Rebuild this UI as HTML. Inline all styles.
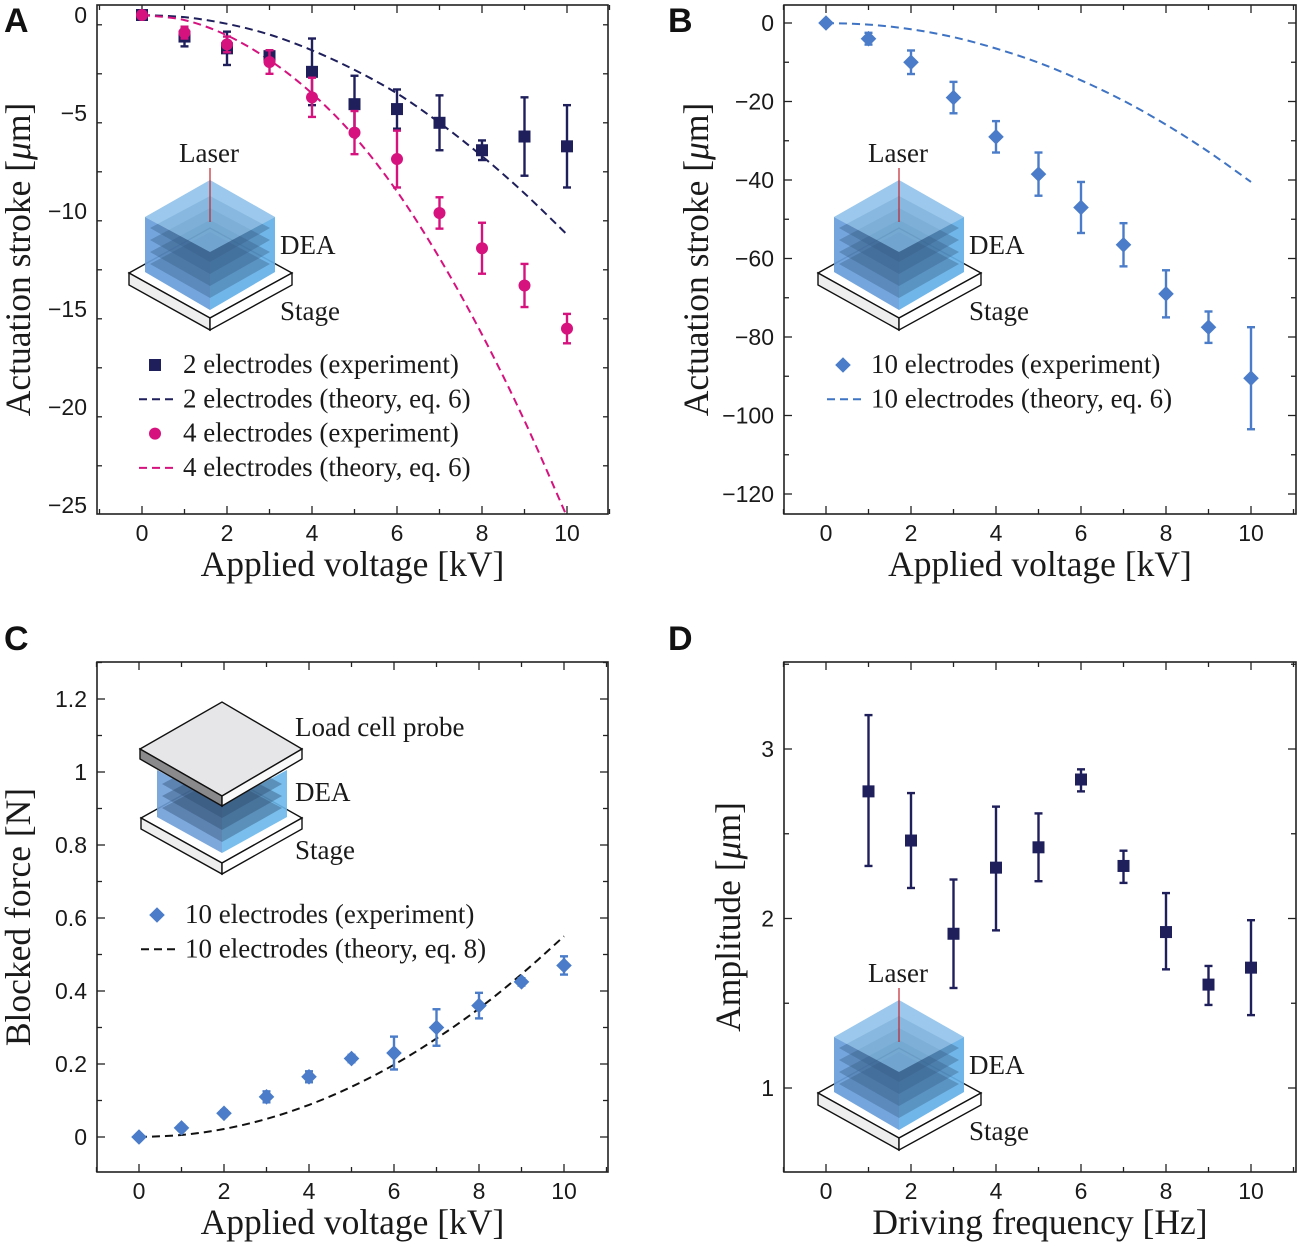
<!DOCTYPE html>
<html><head><meta charset="utf-8"><style>
html,body{margin:0;padding:0;background:#fff;}
svg{display:block;}
.tk{font-family:"Liberation Sans",sans-serif;font-size:23px;fill:#1a1a1a;}
.ti{font-family:"Liberation Serif",serif;font-size:35.5px;fill:#1a1a1a;}
.lg{font-family:"Liberation Serif",serif;font-size:27px;fill:#1a1a1a;}
.pl{font-family:"Liberation Sans",sans-serif;font-size:34px;font-weight:bold;fill:#111;}
</style></head><body>
<svg id="fig" width="1300" height="1247" viewBox="0 0 1300 1247" xmlns="http://www.w3.org/2000/svg"></svg>
<script>
// ---- data ----
const voltsA = [0,1,2,3,4,5,6,7,8,9,10];
const a2Exp = [0,-1.1,-1.7,-2.1,-2.9,-4.55,-4.8,-5.5,-6.9,-6.2,-6.7];
const a2Err = [0,0.5,0.85,0.3,1.7,1.45,1.0,1.4,0.5,2.0,2.1];
const a4Exp = [0,-0.9,-1.5,-2.4,-4.2,-6.0,-7.35,-10.1,-11.9,-13.8,-16.0];
const a4Err = [0,0.3,0.4,0.6,1.0,1.1,1.45,0.8,1.3,1.1,0.75];
const a2Th = [0,-0.11,-0.45,-1.0,-1.8,-2.8,-4.0,-5.5,-7.2,-9.1,-11.2];
const a4Th = [0,-0.26,-1.04,-2.3,-4.0,-6.2,-9.0,-12.4,-16.3,-20.7,-25.6];
const b10Exp = [0,-4,-10,-19,-29,-38.5,-47,-56.5,-69,-77.5,-90.5];
const b10Err = [0,1.5,3,4,4,5.5,6.5,5.5,6,4,13];
const b10Th = [0,-0.4,-1.6,-3.6,-6.5,-10.1,-14.6,-19.8,-25.9,-32.8,-40.5];
const c10Exp = [0,0.025,0.065,0.11,0.165,0.215,0.23,0.30,0.36,0.425,0.47];
const c10Err = [0,0.008,0.008,0.015,0.015,0.01,0.045,0.05,0.035,0.01,0.025];
const c10Th = [0,0.0055,0.022,0.0495,0.088,0.1375,0.198,0.27,0.352,0.446,0.55];
const freqD = [1,2,3,4,5,6,7,8,9,10];
const dAmp = [2.75,2.46,1.91,2.30,2.42,2.82,2.31,1.92,1.61,1.71];
const dLo = [2.31,2.18,1.59,1.93,2.22,2.75,2.21,1.70,1.49,1.43];
const dHi = [3.20,2.74,2.23,2.66,2.62,2.88,2.40,2.15,1.72,1.99];
const xTicks = [0,2,4,6,8,10];
const yTicksA = [0,-5,-10,-15,-20,-25];
const yTicksB = [0,-20,-40,-60,-80,-100,-120];
const yTicksC = [0,0.2,0.4,0.6,0.8,1,1.2];
const yTicksD = [1,2,3];

const NS="http://www.w3.org/2000/svg";
const svg=document.getElementById('fig');
function mk(tag,attrs,parent,text){const e=document.createElementNS(NS,tag);for(const k in attrs)e.setAttribute(k,attrs[k]);if(text!==undefined)e.textContent=text;(parent||svg).appendChild(e);return e;}
function fmt(v){return (v<0?'\u2212':'')+String(Math.abs(v));}

function makeAxes(P){
  const g=mk('g',{});
  
  
  const box=mk('rect',{x:P.x0,y:P.y0,width:P.x1-P.x0,height:P.y1-P.y0,fill:'none',stroke:'#222','stroke-width':1.6},g);
  
  
  for(let v=P.xmin;v<=P.xmax+1e-9;v+=P.xminor){
    const x=P.sx(v);const maj=Math.abs(v/P.xmajor-Math.round(v/P.xmajor))<1e-6;const L=maj?8:5;
    mk('line',{x1:x,x2:x,y1:P.y1,y2:P.y1-L,stroke:'#222','stroke-width':1.3},g);
    mk('line',{x1:x,x2:x,y1:P.y0,y2:P.y0+L,stroke:'#222','stroke-width':1.3},g);
  }
  for(let v=P.ymin;v<=P.ymax+1e-9;v+=P.yminor){
    const y=P.sy(v);if(y<P.y0||y>P.y1)continue;const maj=Math.abs(v/P.ymajor-Math.round(v/P.ymajor))<1e-6;const L=maj?8:5;
    mk('line',{x1:P.x0,x2:P.x0+L,y1:y,y2:y,stroke:'#222','stroke-width':1.3},g);
    mk('line',{x1:P.x1,x2:P.x1-L,y1:y,y2:y,stroke:'#222','stroke-width':1.3},g);
  }
  P.xt.forEach(v=>{const t=mk('text',{x:P.sx(v),y:P.y1+27,'text-anchor':'middle',class:'tk'},g,fmt(v));
    
    });
  P.yt.forEach(v=>{const t=mk('text',{x:P.x0-10,y:P.sy(v)+8,'text-anchor':'end',class:'tk'},g,fmt(v));
    
    });
  const xt=mk('text',{x:(P.x0+P.x1)/2,y:P.y1+62,'text-anchor':'middle',class:'ti'},g,P.xtitle);
  
  
  const yt=mk('text',{x:0,y:0,'text-anchor':'middle',class:'ti',transform:`translate(${P.ytx},${(P.y0+P.y1)/2}) rotate(-90)`},g);
  yt.innerHTML=P.ytitle;
  
  
  const pl=mk('text',{x:P.lx,y:P.ly,class:'pl'},g,P.letter);
  
  
}
function curve(P,xs,ys,color,dash,name){
  const cid='clip'+name;
  const cp=mk('clipPath',{id:cid});mk('rect',{x:P.x0,y:P.y0,width:P.x1-P.x0,height:P.y1-P.y0},cp);
  const pts=xs.map((x,i)=>[P.sx(x),P.sy(ys[i])]);
  let d=`M${pts[0][0]},${pts[0][1]}`;
  for(let i=0;i<pts.length-1;i++){
    const p0=pts[Math.max(0,i-1)],p1=pts[i],p2=pts[i+1],p3=pts[Math.min(pts.length-1,i+2)];
    const c1=[p1[0]+(p2[0]-p0[0])/6,p1[1]+(p2[1]-p0[1])/6];
    const c2=[p2[0]-(p3[0]-p1[0])/6,p2[1]-(p3[1]-p1[1])/6];
    d+=` C${c1[0]},${c1[1]} ${c2[0]},${c2[1]} ${p2[0]},${p2[1]}`;
  }
  const p=mk('path',{d,fill:'none',stroke:color,'stroke-width':2,'stroke-dasharray':dash,'clip-path':`url(#${cid})`});
  
  
}
function marker(shape,x,y,color,s,parent){
  if(shape==='sq')return mk('rect',{x:x-s,y:y-s,width:2*s,height:2*s,fill:color},parent);
  if(shape==='ci')return mk('circle',{cx:x,cy:y,r:s,fill:color},parent);
  return mk('path',{d:`M${x},${y-s*1.3}L${x+s*1.3},${y}L${x},${y+s*1.3}L${x-s*1.3},${y}Z`,fill:color},parent);
}
function points(P,xs,ys,lo,hi,color,shape,size,name){
  const g=mk('g',{});
  
  
  xs.forEach((xv,i)=>{
    const x=P.sx(xv);
    if(hi[i]!==lo[i]){
      const y1=P.sy(hi[i]),y2=P.sy(lo[i]);
      mk('line',{x1:x,x2:x,y1:y1,y2:y2,stroke:color,'stroke-width':2.4},g);
      mk('line',{x1:x-4,x2:x+4,y1:y1,y2:y1,stroke:color,'stroke-width':2.4},g);
      mk('line',{x1:x-4,x2:x+4,y1:y2,y2:y2,stroke:color,'stroke-width':2.4},g);
    }
    const m=marker(shape,x,P.sy(ys[i]),color,size,g);
    
    
  });
}
function legend(items,x,y0,dy,name){
  const g=mk('g',{});
  
  
  items.forEach((it,i)=>{
    const y=y0+i*dy;
    const e=mk('g',{},g);
    
    
    if(it.shape)marker(it.shape,x+16,y,it.color,6,e);
    else mk('line',{x1:x,x2:x+36,y1:y,y2:y,stroke:it.color,'stroke-width':2,'stroke-dasharray':'8,5'},e);
    mk('text',{x:x+44,y:y+8,class:'lg'},e,it.label);
  });
}
function cubeInset(dx,dy,name){
  const g=mk('g',{transform:`translate(${dx},${dy})`});
  
  
  mk('path',{d:'M129,273 L210,228 L292,273 L210,318 Z',fill:'#fff',stroke:'#111','stroke-width':1.4},g);
  mk('path',{d:'M129,273 L210,318 L210,330 L129,285 Z',fill:'#eee',stroke:'#111','stroke-width':1.4},g);
  mk('path',{d:'M210,318 L292,273 L292,285 L210,330 Z',fill:'#fff',stroke:'#111','stroke-width':1.4},g);
  mk('path',{d:'M145,217 L210,252 L210,310 L145,272 Z',fill:'#6f9fd8',opacity:0.9},g);
  mk('path',{d:'M210,252 L275,217 L275,272 L210,310 Z',fill:'#6ab7ea',opacity:0.9},g);
  [0,12,24,36].forEach(o=>{
    mk('path',{d:`M150,${228+o} L210,${196+o} L270,${228+o} L210,${262+o} Z`,fill:'#2d4a6e',opacity:0.4},g);
  });
  mk('path',{d:'M145,217 L210,180 L275,217 L210,252 Z',fill:'#8fc4ea',opacity:0.7},g);
  mk('path',{d:'M145,217 L210,180 L275,217 L275,272 L210,310 L145,272 Z',fill:'#5aa0e0',opacity:0.25},g);
  mk('line',{x1:210,x2:210,y1:168,y2:222,stroke:'#c0242c','stroke-width':1.2},g);
  mk('text',{x:179,y:162,class:'lg'},g,'Laser');
  mk('text',{x:280,y:254,class:'lg'},g,'DEA');
  mk('text',{x:280,y:320,class:'lg'},g,'Stage');
}
const PA={name:'panel-a',x0:97,x1:608,y0:5,y1:514,xmin:-1,xmax:11,xminor:1,xmajor:2,ymin:-25.5,ymax:0.5,yminor:2.5,ymajor:5,
  sx:v=>142+v*42.5,sy:v=>15-v*19.6,xt:xTicks,yt:yTicksA,xtitle:'Applied voltage [kV]',ytitle:'Actuation stroke [<tspan font-style="italic">μ</tspan>m]',ytx:30,lx:4,ly:32,letter:'A'};
const PB={name:'panel-b',x0:784,x1:1296,y0:5,y1:514,xmin:-1,xmax:11,xminor:1,xmajor:2,ymin:-120,ymax:0,yminor:10,ymajor:20,
  sx:v=>826+v*42.5,sy:v=>23-v*3.925,xt:xTicks,yt:yTicksB,xtitle:'Applied voltage [kV]',ytitle:'Actuation stroke [<tspan font-style="italic">μ</tspan>m]',ytx:708,lx:668,ly:32,letter:'B'};
const PC={name:'panel-c',x0:97,x1:608,y0:662,y1:1172,xmin:-1,xmax:11,xminor:1,xmajor:2,ymin:0,ymax:1.3,yminor:0.1,ymajor:0.2,
  sx:v=>139+v*42.5,sy:v=>1137-v*365,xt:xTicks,yt:yTicksC,xtitle:'Applied voltage [kV]',ytitle:'Blocked force [N]',ytx:30,lx:4,ly:650,letter:'C'};
const PD={name:'panel-d',x0:784,x1:1296,y0:662,y1:1172,xmin:-1,xmax:11,xminor:1,xmajor:2,ymin:0.5,ymax:3.5,yminor:0.5,ymajor:1,
  sx:v=>826+v*42.5,sy:v=>1088-(v-1)*169.5,xt:xTicks,yt:yTicksD,xtitle:'Driving frequency [Hz]',ytitle:'Amplitude [<tspan font-style="italic">μ</tspan>m]',ytx:740,lx:668,ly:650,letter:'D'};
[PA,PB,PC,PD].forEach(makeAxes);

cubeInset(0,0,'panel-a-inset');
curve(PA,voltsA,a2Th,'#1f1f5c','8,5','panel-a-theory-2');
curve(PA,voltsA,a4Th,'#d6127f','8,5','panel-a-theory-4');
points(PA,voltsA,a2Exp,a2Exp.map((v,i)=>v-a2Err[i]),a2Exp.map((v,i)=>v+a2Err[i]),'#1f1f5c','sq',6,'panel-a-exp-2');
points(PA,voltsA,a4Exp,a4Exp.map((v,i)=>v-a4Err[i]),a4Exp.map((v,i)=>v+a4Err[i]),'#d6127f','ci',6,'panel-a-exp-4');
legend([{shape:'sq',color:'#1f1f5c',label:'2 electrodes (experiment)'},{color:'#1f1f5c',label:'2 electrodes (theory, eq. 6)'},
  {shape:'ci',color:'#d6127f',label:'4 electrodes (experiment)'},{color:'#d6127f',label:'4 electrodes (theory, eq. 6)'}],139,365,34.3,'panel-a-legend');
cubeInset(689,0,'panel-b-inset');
curve(PB,voltsA,b10Th,'#3f73c4','8,5','panel-b-theory-10');
points(PB,voltsA,b10Exp,b10Exp.map((v,i)=>v-b10Err[i]),b10Exp.map((v,i)=>v+b10Err[i]),'#4a7cc9','di',6,'panel-b-exp-10');
legend([{shape:'di',color:'#4a7cc9',label:'10 electrodes (experiment)'},{color:'#3f73c4',label:'10 electrodes (theory, eq. 6)'}],827,365,34.3,'panel-b-legend');
(function(){
  const g=mk('g',{});
  
  
  mk('path',{d:'M141,818 L222,773 L302,818 L222,863 Z',fill:'#fff',stroke:'#111','stroke-width':1.4},g);
  mk('path',{d:'M141,818 L222,863 L222,874 L141,829 Z',fill:'#eee',stroke:'#111','stroke-width':1.4},g);
  mk('path',{d:'M222,863 L302,818 L302,829 L222,874 Z',fill:'#fff',stroke:'#111','stroke-width':1.4},g);
  mk('path',{d:'M157,770 L222,805 L222,853 L157,817 Z',fill:'#6f9fd8',opacity:0.9},g);
  mk('path',{d:'M222,805 L287,770 L287,817 L222,853 Z',fill:'#6ab7ea',opacity:0.9},g);
  [0,12,24].forEach(o=>mk('path',{d:`M162,${784+o} L222,${752+o} L282,${784+o} L222,${818+o} Z`,fill:'#2d4a6e',opacity:0.4},g));
  mk('path',{d:'M140,749 L222,702 L302,749 L222,796 Z',fill:'#e6e6e8',stroke:'#111','stroke-width':1.4},g);
  mk('path',{d:'M140,749 L222,796 L222,806 L140,759 Z',fill:'#8a8a8c',stroke:'#111','stroke-width':1.4},g);
  mk('path',{d:'M222,796 L302,749 L302,759 L222,806 Z',fill:'#fafafa',stroke:'#111','stroke-width':1.4},g);
  mk('text',{x:295,y:736,class:'lg'},g,'Load cell probe');
  mk('text',{x:295,y:801,class:'lg'},g,'DEA');
  mk('text',{x:295,y:859,class:'lg'},g,'Stage');
})();
curve(PC,voltsA,c10Th,'#111','8,5','panel-c-theory-10');
points(PC,voltsA,c10Exp,c10Exp.map((v,i)=>v-c10Err[i]),c10Exp.map((v,i)=>v+c10Err[i]),'#4a7cc9','di',6,'panel-c-exp-10');
legend([{shape:'di',color:'#4a7cc9',label:'10 electrodes (experiment)'},{color:'#111',label:'10 electrodes (theory, eq. 8)'}],141,915,34.3,'panel-c-legend');
cubeInset(689,820,'panel-d-inset');
points(PD,freqD,dAmp,dLo,dHi,'#1f1f5c','sq',6,'panel-d-amplitude');
</script>
</body></html>
